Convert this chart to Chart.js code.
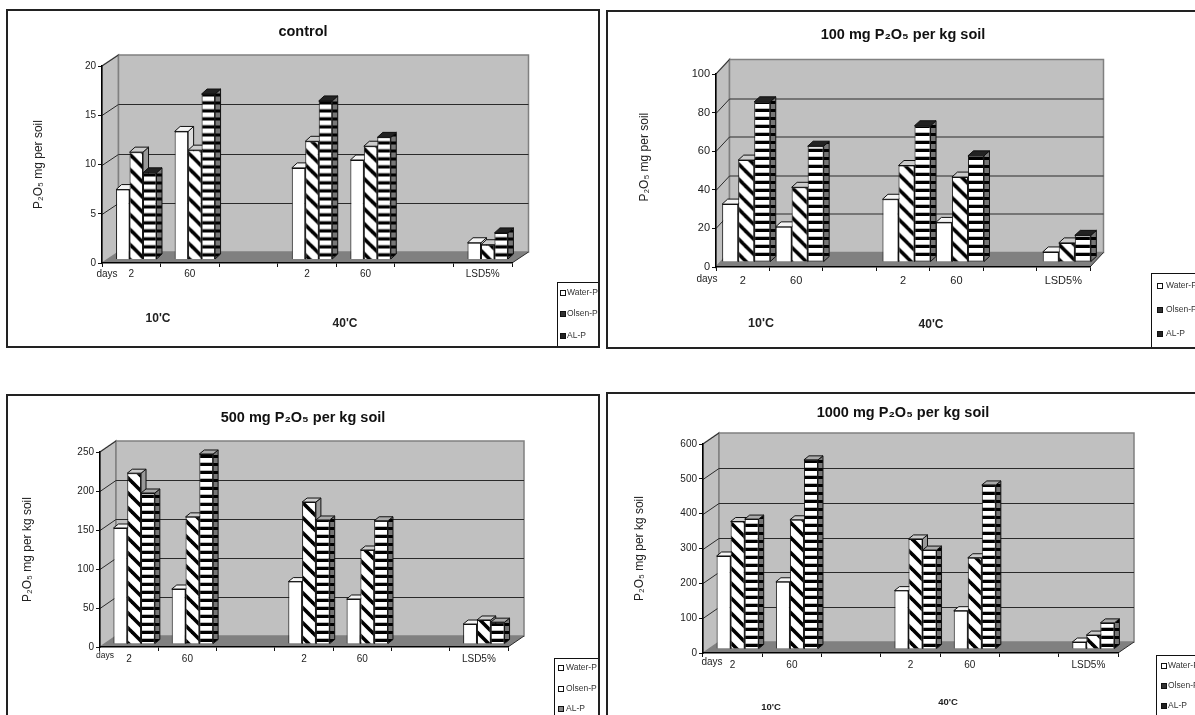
<!DOCTYPE html>
<html>
<head>
<meta charset="utf-8">
<script src="https://cdn.jsdelivr.net/npm/chart.js@4"></script>
<style>
  html, body { margin: 0; padding: 0; background: #fff; width: 1195px; height: 715px; overflow: hidden; }
  canvas { position: absolute; }
</style>
</head>
<body>
<canvas id="c1" style="left:6px;top:9px"></canvas>
<canvas id="c2" style="left:606px;top:10px"></canvas>
<canvas id="c3" style="left:6px;top:394px"></canvas>
<canvas id="c4" style="left:606px;top:392px"></canvas>
<script>
const categories = ['2', '60', '', '2', '60', '', 'LSD5%'];
const seriesNames = ['Water-P', 'Olsen-P', 'AL-P'];

// control
const controlWater = [7.1, 13, null, 9.3, 10.1, null, 1.7];
const controlOlsen = [10.9, 11.1, null, 12, 11.5, null, 1.5];
const controlAl = [8.8, 16.8, null, 16.1, 12.4, null, 2.7];
const controlTicks = [0, 5, 10, 15, 20];

// 100 mg
const p100Water = [30, 18.2, null, 32.5, 20.5, null, 5.2];
const p100Olsen = [52.8, 38.7, null, 50, 44, null, 9.9];
const p100Al = [83, 60, null, 70.6, 55, null, 13.8];
const p100Ticks = [0, 20, 40, 60, 80, 100];

// 500 mg
const p500Water = [148.7, 70.5, null, 80, 57.7, null, 25.6];
const p500Olsen = [219, 163, null, 182, 120.5, null, 30.8];
const p500Al = [193.6, 243.6, null, 159, 158, null, 28];
const p500Ticks = [0, 50, 100, 150, 200, 250];

// 1000 mg
const p1000Water = [267, 193, null, 167.6, 110, null, 20];
const p1000Olsen = [366, 371, null, 316, 262, null, 40];
const p1000Al = [373, 543, null, 284, 471, null, 75];
const p1000Ticks = [0, 100, 200, 300, 400, 500, 600];

const FONT = '"Liberation Sans", Arial, sans-serif';
const INK = '#222';

// バーの塗りパターン
function makePattern(size, paint) {
  const c = document.createElement('canvas');
  c.width = size;
  c.height = size;
  paint(c.getContext('2d'));
  return c.getContext('2d').createPattern(c, 'repeat');
}

const diagonal = makePattern(15, g => {
  g.fillStyle = '#fff';
  g.fillRect(0, 0, 15, 15);
  g.strokeStyle = '#000';
  g.lineWidth = 3.6;
  [-15, 0, 15].forEach(o => {
    g.beginPath();
    g.moveTo(o - 2, -2);
    g.lineTo(o + 17, 17);
    g.stroke();
  });
});

const stripes = makePattern(8, g => {
  g.fillStyle = '#fff';
  g.fillRect(0, 0, 8, 8);
  g.fillStyle = '#000';
  g.fillRect(0, 0, 8, 3);
  g.fillStyle = '#bbb';
  g.fillRect(0, 7, 8, 1);
});

const stripesSide = makePattern(8, g => {
  g.fillStyle = '#777';
  g.fillRect(0, 0, 8, 8);
  g.fillStyle = '#000';
  g.fillRect(0, 0, 8, 3);
});

function poly(ctx, pts, fill, stroke, lw) {
  ctx.beginPath();
  pts.forEach((p, i) => i ? ctx.lineTo(p[0], p[1]) : ctx.moveTo(p[0], p[1]));
  ctx.closePath();
  if (fill) {
    ctx.fillStyle = fill;
    ctx.fill();
  }
  if (stroke) {
    ctx.strokeStyle = stroke;
    ctx.lineWidth = lw || 1;
    ctx.stroke();
  }
}

// 3Dの壁と床
const wallsPlugin = {
  id: 'walls',
  // タイトルはパネル全幅の中央に置く
  afterLayout(chart) {
    chart.titleBlock.left = 0;
    chart.titleBlock.right = chart.width;
  },
  beforeDraw(chart, args, o) {
    const ctx = chart.ctx;
    const { left: L, right: R, top: T, bottom: B } = chart.chartArea;
    const [dx, dy] = o.depth;
    ctx.save();
    poly(ctx, [[L, B], [L + dx, B - dy], [L + dx, T - dy], [L, T]], '#c0c0c0', '#808080', 1.5);
    poly(ctx, [[L + dx, T - dy], [R + dx, T - dy], [R + dx, B - dy], [L + dx, B - dy]], '#c0c0c0', '#808080', 1.5);
    const y = chart.scales.y;
    y.ticks.forEach(t => {
      if (t.value === 0 || t.value === y.max) return;
      const py = Math.round(y.getPixelForValue(t.value)) + 0.5;
      ctx.strokeStyle = '#2a2a2a';
      ctx.lineWidth = 1;
      ctx.beginPath();
      ctx.moveTo(L, py);
      ctx.lineTo(L + dx, py - dy);
      ctx.lineTo(R + dx, py - dy);
      ctx.stroke();
    });
    ctx.strokeStyle = '#2a2a2a';
    ctx.lineWidth = 1;
    ctx.beginPath();
    ctx.moveTo(L, T);
    ctx.lineTo(L + dx, T - dy);
    ctx.stroke();
    poly(ctx, [[L, B], [R, B], [R + dx, B - dy], [L + dx, B - dy]], '#808080');
    ctx.beginPath();
    ctx.moveTo(R, B);
    ctx.lineTo(R + dx, B - dy);
    ctx.stroke();
    ctx.restore();
  },
  // 左から順に描く（既定は逆順）
  beforeDatasetsDraw(chart, args, o) {
    const ctx = chart.ctx;
    const [sx, sy] = o.shift;
    const [fx, fy] = o.face;
    ctx.save();
    ctx.translate(sx, sy);
    chart.data.datasets.forEach((ds, i) => {
      chart.getDatasetMeta(i).data.forEach((el, j) => {
        if (ds.data[j] === null) return;
        const l = el.x - el.width / 2;
        const r = el.x + el.width / 2;
        poly(ctx, [[r, el.y], [r + fx, el.y - fy], [r + fx, el.base - fy], [r, el.base]], ds.sideColor, '#111', 1);
        poly(ctx, [[l, el.y], [l + fx, el.y - fy], [r + fx, el.y - fy], [r, el.y]], ds.topColor, '#111', 1);
        el.draw(ctx);
      });
    });
    ctx.restore();
    return false;
  }
};

// 枠・凡例・補助テキスト
const framePlugin = {
  id: 'frame',
  afterDraw(chart, args, o) {
    const ctx = chart.ctx;
    const W = chart.width;
    const H = chart.height;
    ctx.save();
    ctx.fillStyle = INK;
    ctx.textBaseline = 'middle';
    o.notes.forEach(n => {
      ctx.font = n.font + ' ' + FONT;
      ctx.textAlign = 'center';
      ctx.fillText(n.text, n.x, n.y);
    });

    const box = o.legend;
    ctx.strokeStyle = '#111';
    ctx.lineWidth = 1;
    ctx.strokeRect(box.x + 0.5, box.y + 0.5, W - box.x, H - box.y);
    ctx.beginPath();
    ctx.rect(box.x, box.y, W - box.x - 2, H - box.y);
    ctx.clip();
    chart.data.datasets.forEach((ds, i) => {
      const y = box.y + box.rows[i];
      ctx.fillStyle = box.fills[i];
      ctx.fillRect(box.x + box.sw, y - 3, 6, 6);
      ctx.strokeStyle = '#111';
      ctx.lineWidth = 1;
      ctx.strokeRect(box.x + box.sw + 0.5, y - 2.5, 5, 5);
      ctx.fillStyle = '#333';
      ctx.font = box.size + 'px ' + FONT;
      ctx.textAlign = 'left';
      ctx.fillText(ds.label, box.x + box.tx, y);
    });
    ctx.restore();

    ctx.strokeStyle = INK;
    ctx.lineWidth = 2;
    ctx.strokeRect(1, 1, W - 2, H - 2);
  }
};

function makeChart(id, p) {
  const canvas = document.getElementById(id);
  canvas.width = p.w;
  canvas.height = p.h;
  canvas.style.width = p.w + 'px';
  canvas.style.height = p.h + 'px';
  const ticks = p.ticks;
  const names = p.series;
  return new Chart(canvas, {
    type: 'bar',
    data: {
      labels: categories,
      datasets: [
        { label: seriesNames[0], data: names[0], backgroundColor: '#fff', sideColor: '#ddd', topColor: '#f4f4f4' },
        { label: seriesNames[1], data: names[1], backgroundColor: diagonal, sideColor: '#999', topColor: '#ccc' },
        { label: seriesNames[2], data: names[2], backgroundColor: stripes, sideColor: stripesSide, topColor: p.alTop }
      ].map(d => Object.assign(d, {
        borderColor: '#111',
        borderWidth: 1,
        categoryPercentage: p.catPct,
        barPercentage: 1
      }))
    },
    options: {
      responsive: false,
      animation: false,
      devicePixelRatio: 1,
      layout: { padding: { left: 0, top: 0, bottom: 0, right: p.w - p.right } },
      plugins: {
        legend: { display: false },
        tooltip: { enabled: false },
        title: {
          display: true,
          text: p.title,
          color: '#111',
          font: { family: FONT, size: 14.5, weight: 'bold', lineHeight: 1.2 },
          padding: { top: p.titleY - 8.7, bottom: p.top - (p.titleY - 8.7) - 17.4 }
        },
        walls: { depth: p.depth, shift: p.shift, face: p.face },
        frame: { notes: p.notes, legend: p.legend }
      },
      scales: {
        x: {
          afterFit: s => { s.height = p.h - p.bottom; },
          grid: { drawOnChartArea: false, color: '#111', tickLength: 4 },
          border: { color: '#000', width: 1.5 },
          ticks: {
            color: INK,
            font: { family: FONT, size: p.xFont },
            padding: p.xPad,
            autoSkip: false,
            maxRotation: 0
          }
        },
        y: {
          min: ticks[0],
          max: ticks[ticks.length - 1],
          afterFit: s => { s.width = p.left; },
          title: {
            display: true,
            text: p.yTitle,
            color: INK,
            font: { family: FONT, size: 12, lineHeight: 1.2 },
            padding: { top: p.yTitleX - 7, bottom: 0 }
          },
          grid: { drawOnChartArea: false, color: '#111', tickLength: 4 },
          border: { color: '#000', width: 1.5 },
          ticks: {
            color: INK,
            stepSize: ticks[1] - ticks[0],
            padding: 2,
            font: { family: FONT, size: p.yFont }
          }
        }
      }
    },
    plugins: [wallsPlugin, framePlugin]
  });
}

makeChart('c1', {
  w: 594, h: 339, left: 96, right: 506, top: 57, bottom: 254,
  title: 'control', titleY: 23, yTitle: 'P₂O₅ mg per soil', yTitleX: 32,
  ticks: controlTicks, series: [controlWater, controlOlsen, controlAl],
  catPct: 0.69, depth: [16.5, 11], shift: [5, -3.5], face: [5.5, 5], alTop: '#222',
  xFont: 10, yFont: 10, xPad: 1,
  notes: [
    { text: 'days', x: 101, y: 265, font: '10px' },
    { text: "10'C", x: 152, y: 310, font: 'bold 12px' },
    { text: "40'C", x: 339, y: 315, font: 'bold 12px' }
  ],
  legend: { x: 551, y: 273, rows: [11, 32, 54], fills: ['#fff', '#333', '#222'], sw: 3, tx: 10, size: 8.5 }
});

makeChart('c2', {
  w: 594, h: 339, left: 110, right: 484, top: 64, bottom: 257,
  title: '100 mg P₂O₅ per kg soil', titleY: 25, yTitle: '        P₂O₅ mg per soil', yTitleX: 38,
  ticks: p100Ticks, series: [p100Water, p100Olsen, p100Al],
  catPct: 0.9, depth: [13.5, 14.5], shift: [3.5, -5], face: [5.5, 5], alTop: '#222',
  xFont: 11, yFont: 11, xPad: 3,
  notes: [
    { text: 'days', x: 101, y: 269, font: '10px' },
    { text: "10'C", x: 155, y: 314, font: 'bold 12.5px' },
    { text: "40'C", x: 325, y: 315, font: 'bold 12px' }
  ],
  legend: { x: 545, y: 263, rows: [13, 37, 61], fills: ['#fff', '#333', '#222'], sw: 6, tx: 15, size: 8.5 }
});

makeChart('c3', {
  w: 594, h: 340, left: 94, right: 502, top: 58, bottom: 253,
  title: '500 mg P₂O₅ per kg soil', titleY: 24, yTitle: 'P₂O₅ mg per kg soil', yTitleX: 21,
  ticks: p500Ticks, series: [p500Water, p500Olsen, p500Al],
  catPct: 0.71, depth: [16, 11], shift: [5, -3], face: [5, 4], alTop: '#aaa',
  xFont: 10, yFont: 10, xPad: 2,
  notes: [
    { text: 'days', x: 99, y: 262, font: '8.5px' }
  ],
  legend: { x: 548, y: 264, rows: [10, 31, 51], fills: ['#fff', '#fff', '#888'], sw: 4, tx: 12, size: 8.5 }
});

makeChart('c4', {
  w: 594, h: 340, left: 97, right: 512, top: 52, bottom: 261,
  title: '1000 mg P₂O₅ per kg soil', titleY: 21, yTitle: 'P₂O₅ mg per kg soil', yTitleX: 33,
  ticks: p1000Ticks, series: [p1000Water, p1000Olsen, p1000Al],
  catPct: 0.71, depth: [16, 11], shift: [5, -4], face: [5, 4], alTop: '#aaa',
  xFont: 10, yFont: 10, xPad: 2,
  notes: [
    { text: 'days', x: 106, y: 270, font: '10px' },
    { text: "10'C", x: 165, y: 315, font: 'bold 9.5px' },
    { text: "40'C", x: 342, y: 310, font: 'bold 9.5px' }
  ],
  legend: { x: 550, y: 263, rows: [11, 31, 51], fills: ['#fff', '#333', '#222'], sw: 5, tx: 12, size: 8.5 }
});
</script>
</body>
</html>
